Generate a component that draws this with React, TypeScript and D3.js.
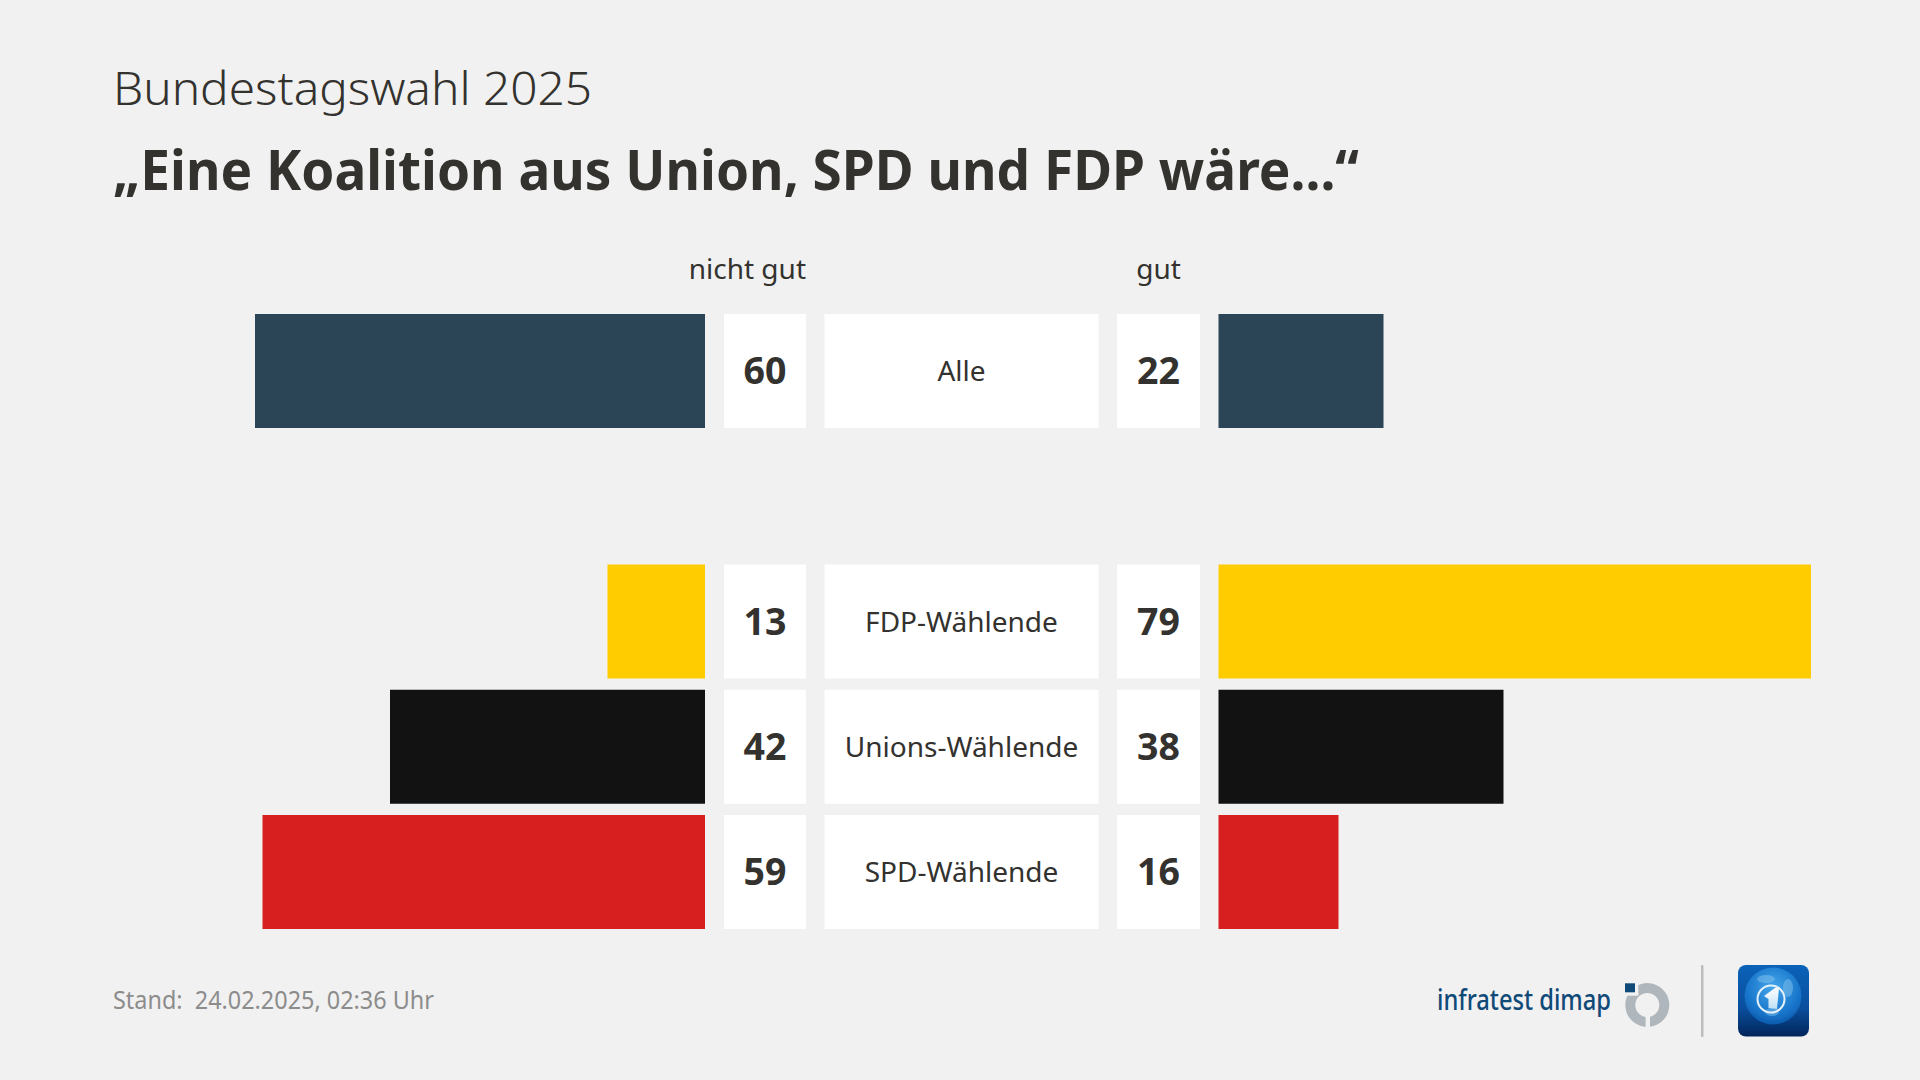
import React from "react";
import * as d3 from "d3";

const categories = ["Alle", "", "FDP-Wählende", "Unions-Wählende", "SPD-Wählende"];
const nichtGut = [60, null, 13, 42, 59];
const gut = [22, null, 79, 38, 16];
const barColors = ["#2b4557", "", "#ffcc00", "#121212", "#d71f1f"];
const subtitle = "Bundestagswahl 2025";
const title = "„Eine Koalition aus Union, SPD und FDP wäre...“";
const stand = "Stand:\u00a0 24.02.2025, 02:36 Uhr";

const W = 1920, H = 1080;
const FONT = "'Noto Sans', sans-serif";
const INK = "#33322f";
const BG = "#f1f1f1";

export default function App() {
  const y = d3.scaleBand<string>().domain(categories.map((c, i) => c || "blank" + i)).range([314, 929]).paddingInner(11.25 / 125.25);
  const w = d3.scaleLinear().domain([0, 100]).range([0, 750]);
  const ring = d3.arc()({ innerRadius: 12, outerRadius: 22, startAngle: 0, endAngle: 2 * Math.PI } as any) as string;
  return (
    <svg width={W} height={H} viewBox={`0 0 ${W} ${H}`} style={{ position: "absolute", left: 0, top: 0, background: BG, fontFamily: FONT }}>
      <defs>
        <linearGradient id="tg" x1="0" y1="0" x2="0" y2="1">
          <stop offset="0" stopColor="#0a62b8" /><stop offset="0.6" stopColor="#0a4f9e" /><stop offset="1" stopColor="#02255a" />
        </linearGradient>
        <radialGradient id="globe" cx="0.5" cy="0.35" r="0.72">
          <stop offset="0" stopColor="#45a6ea" /><stop offset="0.7" stopColor="#1572c8" /><stop offset="1" stopColor="#0a4f9e" />
        </radialGradient>
        <linearGradient id="one" x1="0" y1="0" x2="0" y2="1">
          <stop offset="0" stopColor="#ffffff" /><stop offset="1" stopColor="#bfe0f5" />
        </linearGradient>
        <filter id="soft"><feGaussianBlur stdDeviation="0.6" /></filter>
      </defs>
      <rect width={W} height={H} fill={BG} />
      <text x={113} y={105} fontSize={46} fontWeight={300} fill={INK} textLength={479} lengthAdjust="spacingAndGlyphs">{subtitle}</text>
      <text x={113} y={190} fontSize={56} fontWeight={700} fill={INK} textLength={1246} lengthAdjust="spacingAndGlyphs">{title}</text>
      <text x={806} y={279} textAnchor="end" fontSize={28} fill={INK}>nicht gut</text>
      <text x={1158.5} y={279} textAnchor="middle" fontSize={28} fill={INK}>gut</text>
      {categories.map((c, i) => {
        if (!c) return null;
        const top = y(c)!, h = y.bandwidth(), mid = top + h / 2;
        return (
          <g key={c}>
            <rect x={705 - w(nichtGut[i]!)} y={top} width={w(nichtGut[i]!)} height={h} fill={barColors[i]} />
            <rect x={724} y={top} width={82} height={h} fill="#fff" />
            <text x={765} y={mid + 13} textAnchor="middle" fontSize={37.5} fontWeight={700} fill={INK}>{nichtGut[i]}</text>
            <rect x={824.5} y={top} width={274} height={h} fill="#fff" />
            <text x={961.5} y={mid + 10} textAnchor="middle" fontSize={28} fill={INK}>{c}</text>
            <rect x={1117} y={top} width={83} height={h} fill="#fff" />
            <text x={1158.5} y={mid + 13} textAnchor="middle" fontSize={37.5} fontWeight={700} fill={INK}>{gut[i]}</text>
            <rect x={1218.5} y={top} width={w(gut[i]!)} height={h} fill={barColors[i]} />
          </g>
        );
      })}
      <text x={113} y={1009} fontSize={25} fill="#8c8c8c" textLength={321} lengthAdjust="spacingAndGlyphs">{stand}</text>
      <text x={1437} y={1010} fontSize={29} fontWeight={500} fill="#0f4a78" textLength={174} lengthAdjust="spacingAndGlyphs">infratest dimap</text>
      <g transform="translate(1647.3,1005)">
        <path d={ring} fill="#b0b7bc" />
        <rect x={-24} y={-24} width={15} height={14.7} fill={BG} />
        <rect x={-1.7} y={8} width={4.4} height={16} fill={BG} />
        <rect x={-22.3} y={-21.7} width={10} height={9} fill="#0f4a78" />
      </g>
      <rect x={1701} y={965} width={2.5} height={72} fill="#bdbdbd" rx={1} />
      <rect x={1738} y={965} width={71} height={71.5} rx={8} fill="url(#tg)" />
      <circle cx={1773} cy={996} r={28.5} fill="url(#globe)" filter="url(#soft)" />
      <g fill="#8cc8f0" opacity={0.45} filter="url(#soft)">
        <ellipse cx={1766} cy={979} rx={9} ry={4} />
        <ellipse cx={1788} cy={988} rx={5} ry={9} />
        <ellipse cx={1772} cy={1012} rx={7} ry={4} />
      </g>
      <circle cx={1771} cy={999} r={13.5} fill="none" stroke="#e6f2fb" strokeWidth={2} />
      <polygon points="1764,996 1775,988 1779,988 1777,1009 1768.5,1008 1768.5,999" fill="url(#one)" />
    </svg>
  );
}
